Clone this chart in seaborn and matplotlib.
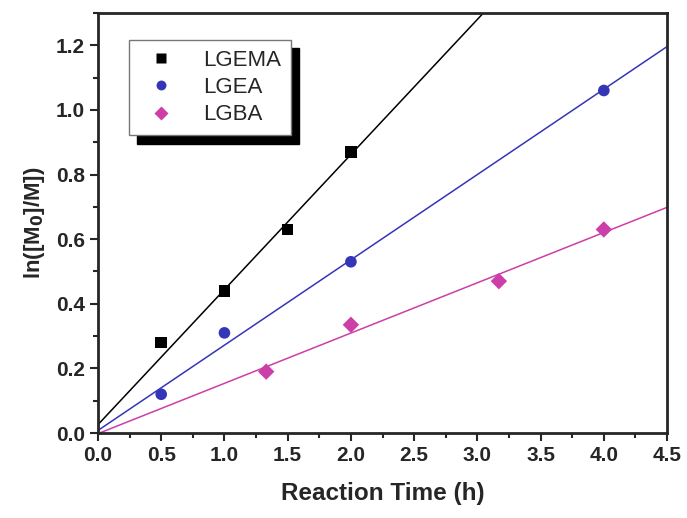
import numpy as np
import pandas as pd
import seaborn as sns
import matplotlib.pyplot as plt
from matplotlib.ticker import MultipleLocator

# measured conversions
t_lgema = [0.5, 1.0, 1.5, 2.0]
y_lgema = [0.28, 0.44, 0.63, 0.87]
t_lgea = [0.5, 1.0, 2.0, 4.0]
y_lgea = [0.12, 0.31, 0.53, 1.06]
t_lgba = [1.33, 2.0, 3.17, 4.0]
y_lgba = [0.19, 0.335, 0.47, 0.63]

names = ["LGEMA", "LGEA", "LGBA"]
colors = {"LGEMA": "#000000", "LGEA": "#3535b8", "LGBA": "#cc3fa8"}
markers = {"LGEMA": "s", "LGEA": "o", "LGBA": "D"}

data = pd.concat([
    pd.DataFrame({"t": t_lgema, "y": y_lgema, "monomer": "LGEMA"}),
    pd.DataFrame({"t": t_lgea, "y": y_lgea, "monomer": "LGEA"}),
    pd.DataFrame({"t": t_lgba, "y": y_lgba, "monomer": "LGBA"}),
])

sns.set_style("ticks")
plt.rcParams["font.family"] = ["Liberation Sans", "DejaVu Sans"]

fig = plt.figure(figsize=(6.87, 5.18), dpi=100)
ax = fig.add_axes([0.1426, 0.164, 0.8284, 0.811])

# linear fits (t = 0 -> ln = 0 included)
xfit = np.linspace(0, 4.5, 50)
for name in names:
    d = data[data.monomer == name]
    k, b = np.polyfit(np.r_[0, d.t], np.r_[0, d.y], 1)
    sns.lineplot(x=xfit, y=k * xfit + b, color=colors[name], lw=1.1, ax=ax)

sns.scatterplot(data=data, x="t", y="y", hue="monomer", style="monomer",
                palette=colors, markers=markers, s=70, edgecolor="none",
                ax=ax, zorder=3)

ax.set_xlim(0, 4.5)
ax.set_ylim(0, 1.3)
ax.xaxis.set_major_locator(MultipleLocator(0.5))
ax.xaxis.set_minor_locator(MultipleLocator(0.25))
ax.yaxis.set_major_locator(MultipleLocator(0.2))
ax.yaxis.set_minor_locator(MultipleLocator(0.1))
ax.tick_params(which="major", direction="out", length=6, width=1.5, labelsize=15)
ax.tick_params(which="minor", direction="out", length=3.5, width=1.5)
for lab in ax.get_xticklabels() + ax.get_yticklabels():
    lab.set_fontweight("bold")
for sp in ax.spines.values():
    sp.set_visible(True)
    sp.set_linewidth(2)

ax.set_xlabel("Reaction Time (h)", fontsize=17.5, fontweight="bold", labelpad=12)
ax.set_ylabel("ln([M$_\\mathbf{0}$]/M])", fontsize=16, fontweight="bold", labelpad=6)

leg = ax.legend(loc="upper left", bbox_to_anchor=(0.054, 0.936), borderaxespad=0,
                fontsize=16, frameon=True,
                shadow={"color": "black", "alpha": 1, "ox": 6, "oy": -6},
                fancybox=False, edgecolor="#777777", handletextpad=0.9,
                labelspacing=0.28, borderpad=0.45, markerscale=0.85, title=None)
leg.get_frame().set_linewidth(1.0)

fig.savefig("out.png", dpi=100)
